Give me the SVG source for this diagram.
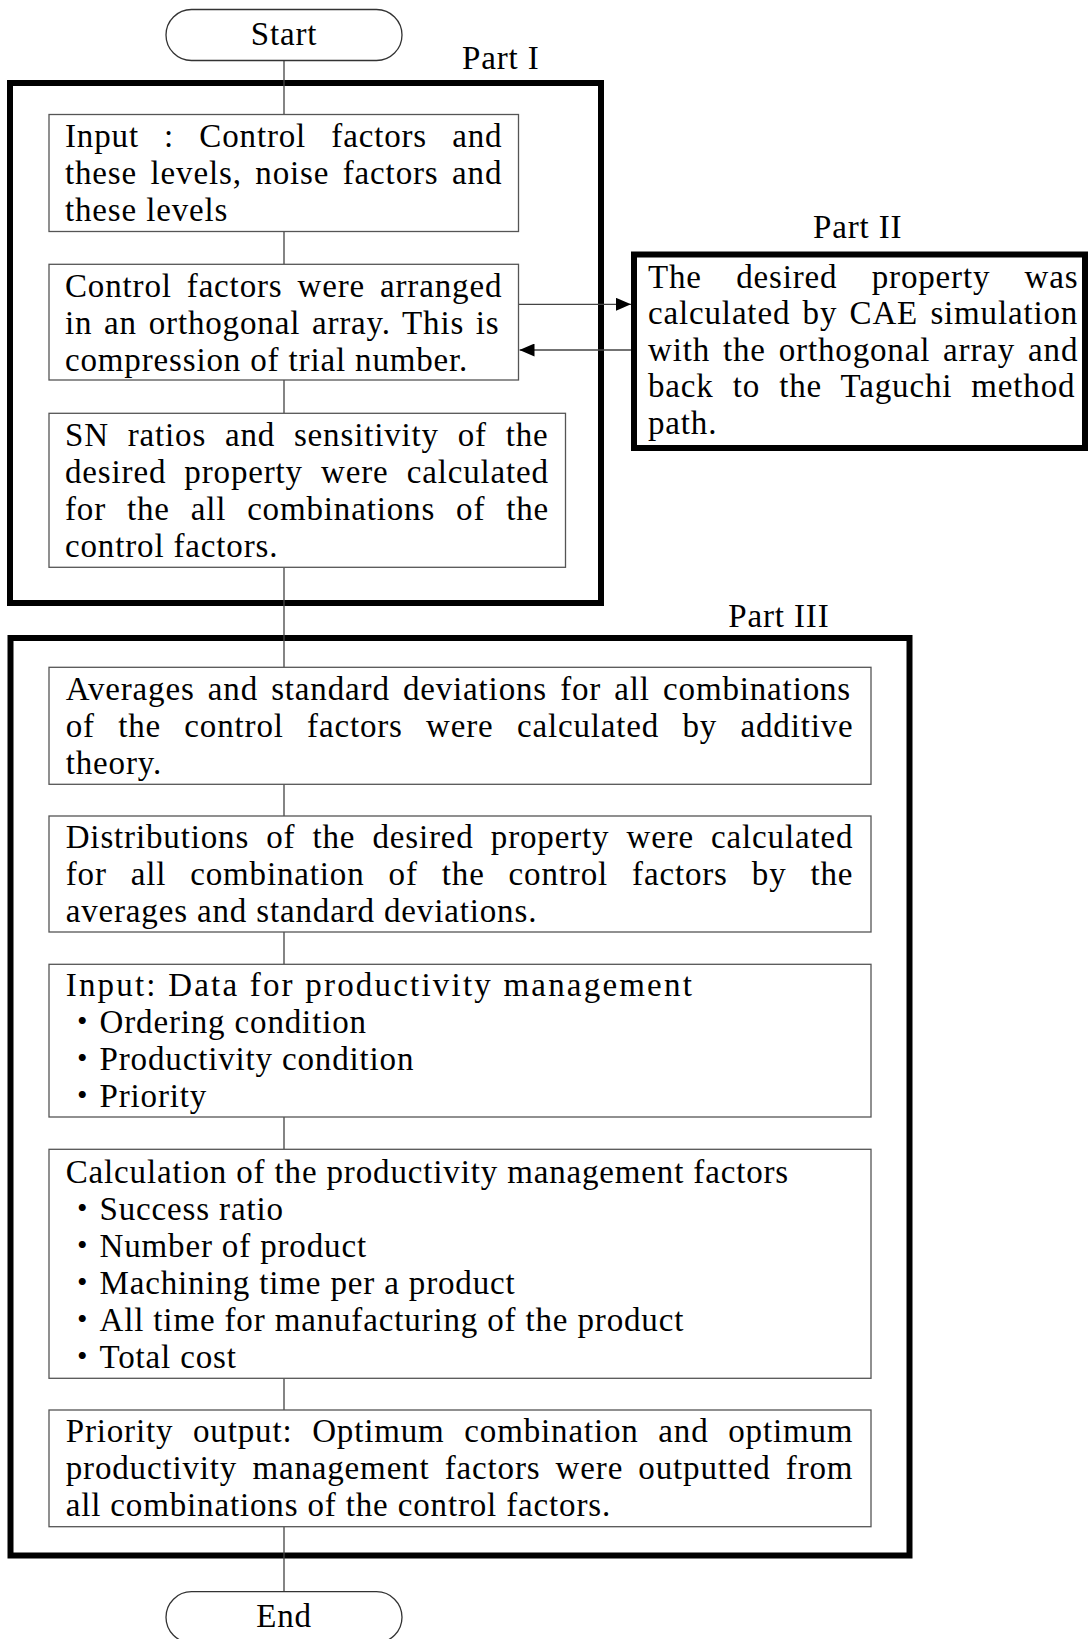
<svg xmlns="http://www.w3.org/2000/svg" width="1088" height="1639" viewBox="0 0 1088 1639">
<style>
.t{font-family:"Liberation Serif","Times New Roman","Noto Sans CJK JP",serif;font-size:33px;letter-spacing:0.85px;fill:#000}
.box{fill:#fff;stroke:#555;stroke-width:1.3}
.term{fill:#fff;stroke:#333;stroke-width:1.3}
.frame{fill:none;stroke:#000;stroke-width:6}
.conn{fill:none;stroke:#444;stroke-width:1.3}
</style>
<defs>
<marker id="arr" markerUnits="userSpaceOnUse" markerWidth="15" markerHeight="13" refX="15" refY="6.5" orient="auto">
<path d="M0,0 L15,6.5 L0,13 z" fill="#000"/>
</marker>
</defs>
<rect width="1088" height="1639" fill="#fff"/>

<g id="part1">
<rect class="frame" x="10" y="83" width="591" height="520"/>
<text class="t" x="462" y="69">Part I</text>
</g>
<g id="part3">
<rect class="frame" x="10.5" y="638" width="899" height="917.5"/>
<text class="t" x="728.3" y="626.7">Part III</text>
</g>

<g id="connectors">
<path class="conn" d="M284,60.5 V114.5 M284,231.5 V264.3 M284,380 V413.3 M284,567.3 V667.3 M284,784.3 V816 M284,932 V964.3 M284,1117 V1149.3 M284,1378.3 V1410 M284,1526.7 V1591.7"/>
<path class="conn" d="M518.5,304.3 H631" marker-end="url(#arr)"/>
<path class="conn" d="M631,350 H519.5" marker-end="url(#arr)"/>
</g>

<g id="start">
<rect class="term" x="166" y="9.5" width="236" height="51" rx="25.5"/>
<text class="t" x="284" y="45" text-anchor="middle">Start</text>
</g>

<g id="input">
<rect class="box" x="49" y="114.5" width="469.5" height="117"/>
<text class="t" x="65" y="146.5" word-spacing="16.1">Input : Control factors and</text>
<text class="t" x="65" y="183.5" word-spacing="4.45">these levels, noise factors and</text>
<text class="t" x="65" y="220.5">these levels</text>
</g>

<g id="orthogonal">
<rect class="box" x="49" y="264.3" width="469.5" height="115.7"/>
<text class="t" x="65" y="296.5" word-spacing="5.9">Control factors were arranged</text>
<text class="t" x="65" y="333.5" word-spacing="2.64">in an orthogonal array. This is</text>
<text class="t" x="65" y="370.5">compression of trial number.</text>
</g>

<g id="sn">
<rect class="box" x="49" y="413.3" width="516.5" height="154"/>
<text class="t" x="65" y="445.5" word-spacing="9.7">SN ratios and sensitivity of the</text>
<text class="t" x="65" y="482.5" word-spacing="9.0">desired property were calculated</text>
<text class="t" x="65" y="519.5" word-spacing="11.8">for the all combinations of the</text>
<text class="t" x="65" y="556.5">control factors.</text>
</g>

<g id="part2">
<text class="t" x="813" y="237.7">Part II</text>
<rect x="634" y="254.5" width="451" height="193.5" fill="#fff" stroke="#000" stroke-width="6"/>
<text class="t" x="648" y="287.5" word-spacing="25.2">The desired property was</text>
<text class="t" x="648" y="324" word-spacing="3.2">calculated by CAE simulation</text>
<text class="t" x="648" y="360.5" word-spacing="3.8">with the orthogonal array and</text>
<text class="t" x="648" y="397" word-spacing="9.95">back to the Taguchi method</text>
<text class="t" x="648" y="433.5">path.</text>
</g>

<g id="averages">
<rect class="box" x="49" y="667.3" width="822" height="117"/>
<text class="t" x="65.7" y="700" word-spacing="4.05">Averages and standard deviations for all combinations</text>
<text class="t" x="65.7" y="737" word-spacing="14.2">of the control factors were calculated by additive</text>
<text class="t" x="65.7" y="774">theory.</text>
</g>

<g id="distributions">
<rect class="box" x="49" y="816" width="822" height="116"/>
<text class="t" x="65.7" y="848" word-spacing="8.0">Distributions of the desired property were calculated</text>
<text class="t" x="65.7" y="885" word-spacing="14.9">for all combination of the control factors by the</text>
<text class="t" x="65.7" y="922">averages and standard deviations.</text>
</g>

<g id="data-input">
<rect class="box" x="49" y="964.3" width="822" height="152.7"/>
<text class="t" x="65.7" y="996" textLength="627" lengthAdjust="spacing">Input: Data for productivity management</text>
<text class="t" x="65.7" y="1033">・Ordering condition</text>
<text class="t" x="65.7" y="1070">・Productivity condition</text>
<text class="t" x="65.7" y="1107">・Priority</text>
</g>

<g id="calculation">
<rect class="box" x="49" y="1149.3" width="822" height="229"/>
<text class="t" x="65.7" y="1182.5">Calculation of the productivity management factors</text>
<text class="t" x="65.7" y="1219.5">・Success ratio</text>
<text class="t" x="65.7" y="1256.5">・Number of product</text>
<text class="t" x="65.7" y="1293.5">・Machining time per a product</text>
<text class="t" x="65.7" y="1330.5">・All time for manufacturing of the product</text>
<text class="t" x="65.7" y="1367.5">・Total cost</text>
</g>

<g id="output">
<rect class="box" x="49" y="1410" width="822" height="116.7"/>
<text class="t" x="65.7" y="1442" word-spacing="10.6">Priority output: Optimum combination and optimum</text>
<text class="t" x="65.7" y="1479" word-spacing="6.1">productivity management factors were outputted from</text>
<text class="t" x="65.7" y="1516">all combinations of the control factors.</text>
</g>

<g id="end">
<rect class="term" x="166" y="1591.7" width="236" height="51" rx="25.5"/>
<text class="t" x="284" y="1627" text-anchor="middle">End</text>
</g>
</svg>
